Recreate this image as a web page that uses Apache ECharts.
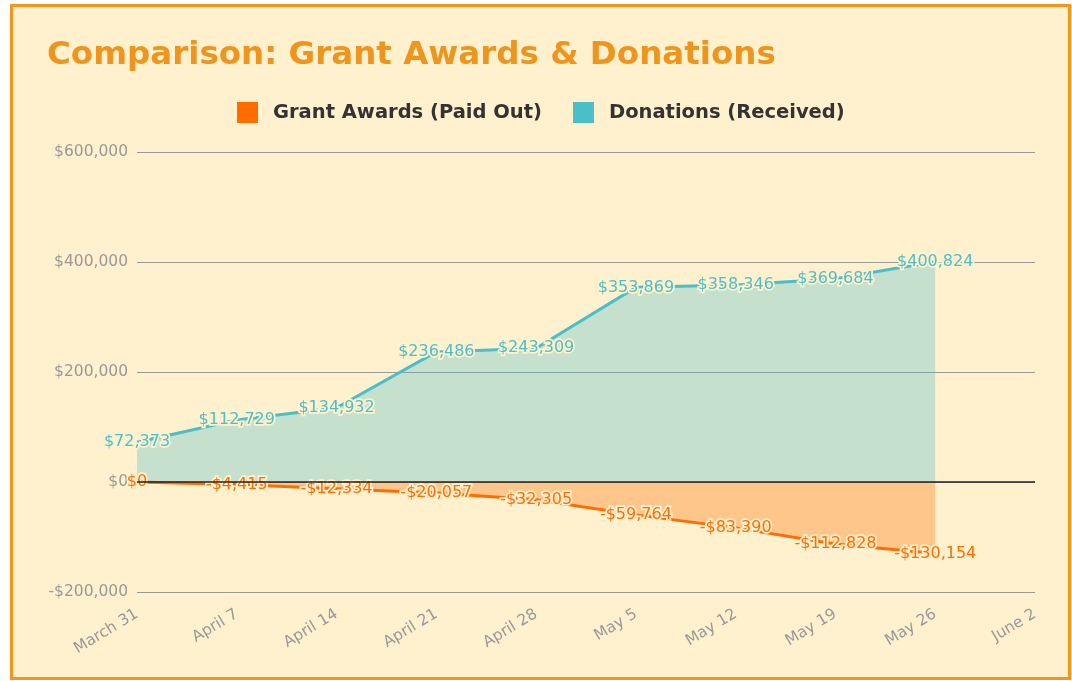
<!DOCTYPE html>
<html>
<head>
<meta charset="utf-8">
<script src="https://cdn.jsdelivr.net/npm/echarts@6/dist/echarts.min.js"></script>
<style>
  html, body { margin: 0; padding: 0; background: #fff; }
  #chart { width: 1072px; height: 681px; }
</style>
</head>
<body>
<div id="chart"></div>
<script>
// weeks on the x axis (last one has no data)
var weeks = ["March 31", "April 7", "April 14", "April 21", "April 28", "May 5", "May 12", "May 19", "May 26", "June 2"];
var grants = [0, -4415, -12334, -20057, -32305, -59764, -83390, -112828, -130154];
var donations = [72373, 112729, 134932, 236486, 243309, 353869, 358346, 369684, 400824];
var yTicks = { min: -200000, max: 600000, interval: 200000 };

var bg = "#FFF1CE";
var orange = "#FF6D00";
var teal = "#4BBFC9";
var font = "DejaVu Sans";

function money(v) {
  return (v < 0 ? "-" : "") + "$" + Math.abs(v).toLocaleString("en-US");
}

var chart = echarts.init(document.getElementById("chart"));
chart.setOption({
  backgroundColor: "#fff",
  textStyle: { fontFamily: font },
  graphic: [{
    type: "rect", z: -10, silent: true,
    shape: { x: 11.5, y: 5.5, width: 1058, height: 673 },
    style: { fill: bg, stroke: "#F4961E", lineWidth: 3 }
  }],
  title: {
    text: "Comparison: Grant Awards & Donations",
    left: 42, top: 34,
    textStyle: { color: "#EE951E", fontSize: 32.5, fontWeight: "bold", fontFamily: font }
  },
  legend: {
    top: 97, left: 232,
    icon: "rect", itemWidth: 21, itemHeight: 21, itemGap: 31,
    textStyle: { color: "#333", fontSize: 19.5, fontWeight: "bold", fontFamily: font, padding: [0, 0, 0, 10] }
  },
  grid: { left: 137, right: 37, top: 152, bottom: 89 },
  xAxis: {
    type: "category",
    data: weeks,
    boundaryGap: false,
    axisLine: { show: false },
    axisTick: { show: false },
    axisLabel: { color: "#999", fontSize: 15.5, rotate: 31, margin: 21, fontFamily: font }
  },
  yAxis: {
    type: "value",
    min: yTicks.min, max: yTicks.max, interval: yTicks.interval,
    axisLine: { show: false },
    axisTick: { show: false },
    axisLabel: { color: "#999", fontSize: 15.5, margin: 9, formatter: money, fontFamily: font },
    splitLine: { lineStyle: { color: "#9a9a9a", width: 1.2 } }
  },
  series: [
    {
      name: "Grant Awards (Paid Out)",
      type: "line",
      data: grants,
      color: orange,
      symbol: "circle",
      symbolSize: 0,
      lineStyle: { width: 3, color: orange },
      areaStyle: { color: orange, opacity: 0.32 },
      label: {
        show: true, position: "inside", formatter: function (p) { return money(p.value); },
        color: orange, fontSize: 16, fontFamily: font,
        textBorderColor: bg, textBorderWidth: 3.5
      },
      markLine: {
        silent: true, symbol: "none",
        label: { show: false },
        lineStyle: { color: "#222", type: "solid", width: 1.5 },
        data: [{ yAxis: 0 }]
      },
      z: 3
    },
    {
      name: "Donations (Received)",
      type: "line",
      data: donations,
      color: teal,
      symbol: "circle",
      symbolSize: 0,
      lineStyle: { width: 3, color: teal },
      areaStyle: { color: teal, opacity: 0.32 },
      label: {
        show: true, position: "inside", formatter: function (p) { return money(p.value); },
        color: teal, fontSize: 16, fontFamily: font,
        textBorderColor: bg, textBorderWidth: 3.5
      },
      z: 3
    }
  ]
});
</script>
</body>
</html>
